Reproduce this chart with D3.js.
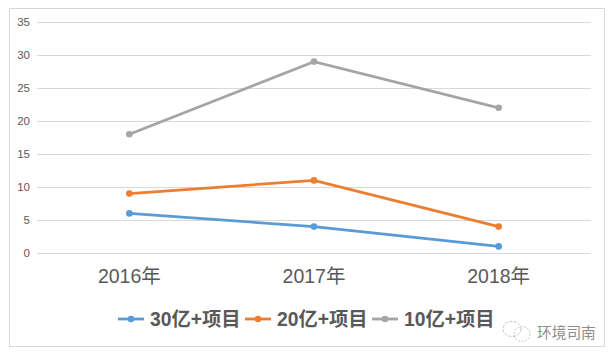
<!DOCTYPE html>
<html>
<head>
<meta charset="utf-8">
<script src="https://cdn.jsdelivr.net/npm/d3@7"></script>
<style>
html, body { margin: 0; padding: 0; background: #fff; }
svg { display: block; }
text { font-family: "Liberation Sans", "Noto Sans CJK SC", sans-serif; }
</style>
</head>
<body>
<div id="chart"></div>
<script>
var years = ["2016年", "2017年", "2018年"];
var seriesNames = ["30亿+项目", "20亿+项目", "10亿+项目"];
var values30 = [6, 4, 1];
var values20 = [9, 11, 4];
var values10 = [18, 29, 22];
var colors = ["#5b9bd5", "#ed7d31", "#a5a5a5"];
var yTicks = [0, 5, 10, 15, 20, 25, 30, 35];

var width = 615, height = 359;
var margin = {top: 22, right: 24, bottom: 106, left: 37};

var svg = d3.select("#chart").append("svg")
	.attr("width", width)
	.attr("height", height);

// outer frame
svg.append("rect")
	.attr("x", 9.5).attr("y", 8.5)
	.attr("width", 595).attr("height", 338)
	.attr("fill", "#fff")
	.attr("stroke", "#d9d9d9")
	.attr("stroke-width", 1);

var x = d3.scaleBand()
	.domain(years)
	.range([margin.left, width - margin.right]);

var y = d3.scaleLinear()
	.domain([0, 35])
	.range([height - margin.bottom, margin.top]);

// y axis with gridlines
var yAxis = svg.append("g")
	.attr("transform", "translate(" + margin.left + ",0)")
	.call(d3.axisLeft(y).tickValues(yTicks).tickSize(-(width - margin.left - margin.right)).tickPadding(7));
yAxis.select(".domain").remove();
yAxis.selectAll("line").attr("stroke", "#d9d9d9");
yAxis.selectAll("text")
	.attr("fill", "#595959")
	.style("font-size", "11.5px");

// x axis
var xAxis = svg.append("g")
	.attr("transform", "translate(0," + y(0) + ")")
	.call(d3.axisBottom(x).tickSize(0).tickPadding(16));
xAxis.select(".domain").remove();
xAxis.selectAll("text")
	.attr("fill", "#595959")
	.style("font-size", "19.5px");

var line = d3.line()
	.x(function(d, i) { return x(years[i]) + x.bandwidth() / 2; })
	.y(function(d) { return y(d); });

[values30, values20, values10].forEach(function(vals, k) {
	svg.append("path")
		.datum(vals)
		.attr("fill", "none")
		.attr("stroke", colors[k])
		.attr("stroke-width", 2.8)
		.attr("stroke-linecap", "round")
		.attr("d", line);
	svg.selectAll(".pt" + k)
		.data(vals)
		.enter().append("circle")
		.attr("class", "pt" + k)
		.attr("r", 3.3)
		.attr("cx", function(d, i) { return x(years[i]) + x.bandwidth() / 2; })
		.attr("cy", function(d) { return y(d); })
		.attr("fill", colors[k]);
});

// legend
var legendX = [118, 245, 372];
var legend = svg.selectAll(".legend")
	.data(seriesNames)
	.enter().append("g")
	.attr("class", "legend")
	.attr("transform", function(d, i) { return "translate(" + legendX[i] + ",319)"; });
legend.append("line")
	.attr("x1", 0).attr("x2", 26)
	.attr("stroke", function(d, i) { return colors[i]; })
	.attr("stroke-width", 2.8);
legend.append("circle")
	.attr("cx", 13).attr("r", 3.3)
	.attr("fill", function(d, i) { return colors[i]; });
legend.append("text")
	.attr("x", 32).attr("y", 7)
	.attr("fill", "#595959")
	.style("font-size", "19.3px")
	.style("font-weight", "bold")
	.text(function(d) { return d; });

// watermark
var mark = svg.append("g")
	.attr("transform", "translate(522,333)")
	.attr("fill", "none")
	.attr("stroke", "#bdbdbd")
	.attr("stroke-width", 0.9);
mark.append("ellipse")
	.attr("cx", -10).attr("cy", -4).attr("rx", 9).attr("ry", 7.5)
	.attr("stroke-dasharray", "3 1.5");
mark.append("ellipse")
	.attr("cx", 0).attr("cy", 1).attr("rx", 8).attr("ry", 7.5)
	.attr("stroke-dasharray", "2 1.5");
svg.append("text")
	.attr("x", 537).attr("y", 338)
	.attr("fill", "#8c8c8c")
	.style("font-size", "14.7px")
	.text("环境司南");
</script>
</body>
</html>
